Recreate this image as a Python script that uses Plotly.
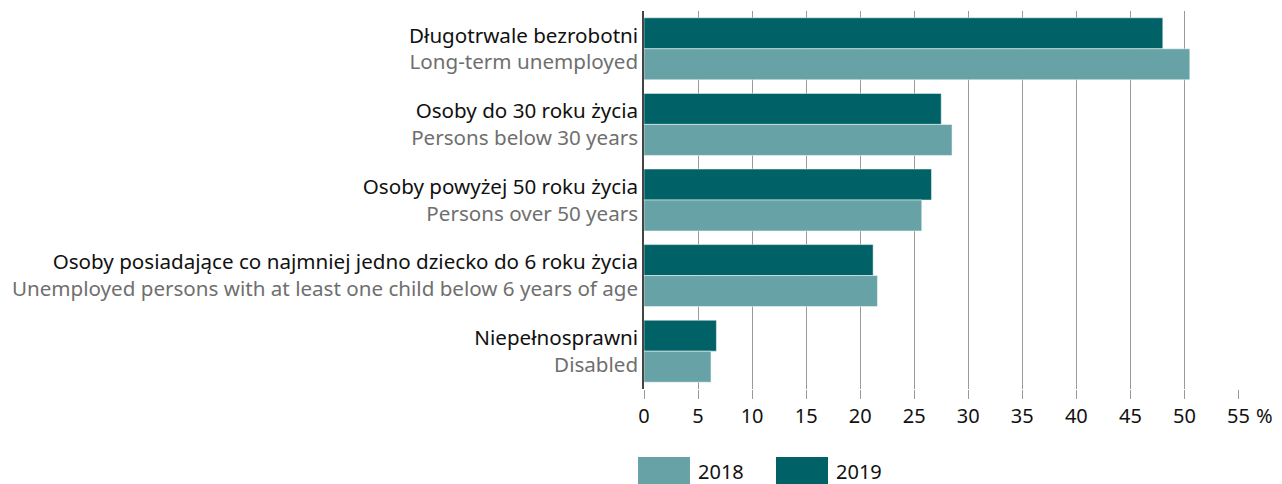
import plotly.graph_objects as go

labels_pl = [
    "Długotrwale bezrobotni",
    "Osoby do 30 roku życia",
    "Osoby powyżej 50 roku życia",
    "Osoby posiadające co najmniej jedno dziecko do 6 roku życia",
    "Niepełnosprawni",
]
labels_en = [
    "Long-term unemployed",
    "Persons below 30 years",
    "Persons over 50 years",
    "Unemployed persons with at least one child below 6 years of age",
    "Disabled",
]
values_2018 = [50.5, 28.5, 25.7, 21.6, 6.2]
values_2019 = [48.0, 27.5, 26.6, 21.2, 6.7]
x_ticks = [0, 5, 10, 15, 20, 25, 30, 35, 40, 45, 50, 55]
x_ticktext = ["0", "5", "10", "15", "20", "25", "30", "35", "40", "45", "50", "55"]

COL_2018 = "#66a2a6"
COL_2019 = "#006167"
FONT = "Noto Sans"
FS = 20

# page has an 8px body margin; figure is sized so it fills the window exactly
W, H = 1274, 476
L, T = 636, 3
PW, PH = 595, 378

cats = [
    f"<span style='color:#111111'>{p}</span><br><span style='color:#6f6f6f'>{e}</span>"
    for p, e in zip(labels_pl, labels_en)
]

fig = go.Figure()
fig.add_trace(go.Bar(y=cats, x=values_2019, orientation="h", name="2019",
                     marker=dict(color=COL_2019, line=dict(color="white", width=0.5)),
                     showlegend=False))
fig.add_trace(go.Bar(y=cats, x=values_2018, orientation="h", name="2018",
                     marker=dict(color=COL_2018, line=dict(color="white", width=0.5)),
                     showlegend=False))

fig.update_layout(
    width=W, height=H,
    margin=dict(l=L, r=W - L - PW, t=T, b=H - T - PH, pad=0),
    paper_bgcolor="white", plot_bgcolor="white",
    barmode="group", bargap=0.18, bargroupgap=0,
    font=dict(family=FONT, size=FS, color="#111111"),
    xaxis=dict(range=[0, 55.05], tickvals=x_ticks, ticktext=x_ticktext,
               showgrid=True, gridcolor="#9a9a9a", gridwidth=1,
               ticks="outside", ticklen=9, tickcolor="#9a9a9a",
               ticklabelstandoff=0,
               zeroline=False, showline=False,
               tickfont=dict(size=FS, color="#111111")),
    yaxis=dict(autorange="reversed", showgrid=False, showline=True,
               linecolor="#444444", linewidth=1.5, ticks="",
               ticklabelstandoff=0,
               tickfont=dict(size=20.6)),
)

# "%" unit after the last tick
fig.add_annotation(x=55, y=0, xref="x", yref="paper", yanchor="middle", xanchor="left",
                   xshift=16, yshift=-26, text="%", showarrow=False,
                   font=dict(size=FS, color="#111111"))

# legend drawn as large swatches (page pixel positions converted to paper coords)
def px(xp):
    return (xp - 8 - L) / PW

def py(yp):
    return 1 - (yp - 8 - T) / PH

legend_items = [("2018", COL_2018, 638), ("2019", COL_2019, 776)]
for name, col, x0 in legend_items:
    fig.add_shape(type="rect", xref="paper", yref="paper",
                  x0=px(x0), x1=px(x0 + 52), y0=py(457), y1=py(486),
                  fillcolor=col, line=dict(width=0))
    fig.add_annotation(x=px(x0 + 58), y=py(471), xref="paper", yref="paper",
                       xanchor="left", yanchor="middle",
                       text=name, showarrow=False, font=dict(size=FS, color="#111111"))

fig.write_html("out.html")
